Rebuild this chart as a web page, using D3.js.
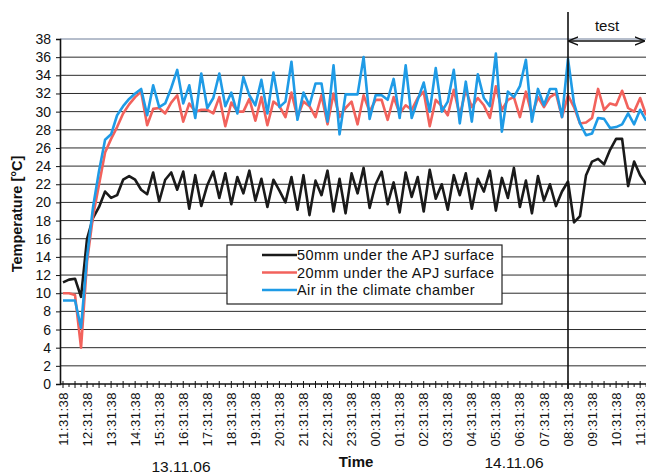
<!DOCTYPE html>
<html><head><meta charset="utf-8">
<script src="https://cdn.jsdelivr.net/npm/d3@7"></script>
<style>body{margin:0;background:#fff}svg{display:block}text{font-family:"Liberation Sans",Arial,sans-serif;fill:#111}</style>
</head><body><svg id="c" width="646" height="475"></svg>
<script>
const seriesNames = ["50mm under the APJ surface","20mm under the APJ surface","Air in the climate chamber"];
const seriesColors = ["#1a1a1a","#f2625c","#1f9be6"];
const black50 = [11.2,11.5,11.6,9.6,16,18.3,19.5,21.2,20.5,20.8,22.5,22.9,22.5,21.4,20.9,23.3,20.1,22.5,23.3,21.4,23.4,19.3,23.0,19.6,21.9,23.4,
20.5,23.2,19.8,22.8,21.0,23.5,20.2,22.6,19.5,22.5,21.3,20.0,22.8,19.2,23.0,18.6,22.4,20.8,23.5,19.0,22.6,18.8,23.2,21.0,23.8,19.4,22.0,23.4,19.8,22.2,18.9,23.3,20.6,22.8,19.0,23.6,20.4,22.0,19.2,23.0,20.8,23.2,19.3,22.6,21.2,23.5,19.1,22.7,20.5,23.8,19.5,22.4,18.8,22.9,20.2,22.0,19.6,21.2,22.3,
17.8,18.5,23.0,24.5,24.8,24.2,25.8,27.0,27.0,21.8,24.5,23.0,22.0];
const red20 = [10.0,10.0,9.8,4.0,13.5,18.5,22,25.5,27,28.3,29.8,30.8,31.6,32.2,
28.5,30.3,30.4,29.8,31.0,31.8,28.9,30.9,30.0,30.2,
30.2,29.8,31.6,28.4,31.0,30.0,30.0,31.4,29.0,31.6,
28.5,31.1,30.6,29.4,32.1,29.4,31.1,30.6,29.4,31.8,
28.6,32.0,29.4,30.4,31.1,28.6,31.8,30.0,31.3,31.3,
29.1,31.6,29.8,30.7,30.2,31.5,32.2,28.4,31.3,30.6,
29.6,32.4,29.6,32.4,30.5,31.5,30.7,29.3,32.8,30.2,
31.3,31.6,29.4,32.2,29.6,31.6,30.5,31.6,32.0,29.4,
31.8,30.5,28.7,28.8,29.3,32.5,30.2,30.9,30.7,32.3,30.4,30.0,31.5,29.6];
const blueAir = [9.2,9.2,9.2,6.2,14,19.5,23.5,26.9,27.5,29.6,30.6,31.4,32.0,32.5,
29.6,32.9,30.5,30.9,32.6,34.6,30.9,32.9,29.3,34.2,
30.4,31.5,34.2,30.6,32.1,29.8,33.8,31.8,30.7,33.5,
29.8,34.3,30.5,31.1,35.5,29.1,32.1,30.7,33.1,33.1,
28.9,35.1,27.5,31.9,31.9,31.9,36.0,29.2,31.8,31.8,
31.3,33.6,29.3,35.1,29.3,31.3,33.2,30.0,34.8,30.0,
31.1,34.6,28.7,33.3,28.9,34.1,31.5,30.6,36.4,27.8,
32.2,31.6,32.8,35.7,28.9,32.5,30.7,32.5,32.5,29.4,
35.8,30.9,28.7,27.4,27.6,29.3,29.2,28.2,28.3,28.6,29.8,28.6,30.2,29.0];
const yTicks = [0,2,4,6,8,10,12,14,16,18,20,22,24,26,28,30,32,34,36,38];
const xTickLabels = ["11:31:38","12:31:38","13:31:38","14:31:38","15:31:38","16:31:38","17:31:38","18:31:38","19:31:38","20:31:38","21:31:38","22:31:38","23:31:38","00:31:38","01:31:38","02:31:38","03:31:38","04:31:38","05:31:38","06:31:38","07:31:38","08:31:38","09:31:38","10:31:38","11:31:38"];
const dateLabels = ["13.11.06","14.11.06"];
const testIndex = 84; // 08:31:38, start of test

const svg = d3.select("#c");
const x = d3.scaleLinear().domain([0, 84]).range([63, 568]);
const y = d3.scaleLinear().domain([0, 38]).range([384, 39]);
const W = 646;

// grid
svg.append("g").selectAll("line").data(yTicks.filter(d=>d>0)).join("line")
  .attr("x1", 60).attr("x2", W).attr("y1", d=>y(d)).attr("y2", d=>y(d))
  .attr("stroke", d=> d===38 ? "#6d7c98" : "#2b2b2b").attr("stroke-width", 1);

// y axis
const ya = svg.append("g").attr("transform","translate(60,0)")
  .call(d3.axisLeft(y).tickValues(yTicks).tickSize(4).tickPadding(5).tickFormat(d3.format("d")));
ya.select(".domain").attr("stroke","#111").attr("stroke-width",1.6);
ya.selectAll(".tick line").attr("stroke","#111");
ya.selectAll("text").attr("font-size",14).style("font-family","'Liberation Sans',Arial,sans-serif").attr("fill","#111");

// x axis line and ticks
const idx = d3.range(0, 100);
svg.append("line").attr("x1",60).attr("x2",W).attr("y1",y(0)).attr("y2",y(0)).attr("stroke","#111").attr("stroke-width",1.4);
svg.append("g").selectAll("line").data(idx.filter(i=>i%2===0)).join("line")
  .attr("x1",d=>x(d)).attr("x2",d=>x(d)).attr("y1",y(0)-3).attr("y2",y(0)+4).attr("stroke","#111").attr("stroke-width",1);
svg.append("g").selectAll("line").data(idx.filter(i=>i%2===1)).join("line")
  .attr("x1",d=>x(d)).attr("x2",d=>x(d)).attr("y1",y(0)).attr("y2",y(0)+3).attr("stroke","#111").attr("stroke-width",1);

// x tick labels
svg.append("g").selectAll("text").data(xTickLabels).join("text")
  .attr("transform",(d,i)=>`translate(${x(i*4)},392) rotate(-90)`)
  .attr("text-anchor","end").attr("dy","0.35em").attr("font-size",13).attr("letter-spacing","0.5px").text(d=>d);

// lines
const seriesData = [black50, red20, blueAir];
const line = d3.line().x((d,i)=>x(i)).y(d=>y(d));
svg.append("g").selectAll("path").data(seriesData).join("path")
  .attr("d", line).attr("fill","none")
  .attr("stroke",(d,i)=>seriesColors[i]).attr("stroke-width",2.6).attr("stroke-linejoin","round");

// test marker
svg.append("line").attr("x1",x(testIndex)).attr("x2",x(testIndex)).attr("y1",12).attr("y2",y(0)+5)
  .attr("stroke","#111").attr("stroke-width",1.6);
const defs = svg.append("defs");
defs.append("marker").attr("id","ah").attr("viewBox","0 0 10 10").attr("refX",9).attr("refY",5)
  .attr("markerWidth",8).attr("markerHeight",8).attr("orient","auto-start-reverse")
  .append("path").attr("d","M0,1 L10,5 L0,9").attr("fill","none").attr("stroke","#111").attr("stroke-width",1.5);
svg.append("line").attr("x1",x(testIndex)+1).attr("x2",644).attr("y1",41).attr("y2",41)
  .attr("stroke","#111").attr("stroke-width",1.3)
  .attr("marker-start","url(#ah)").attr("marker-end","url(#ah)");
svg.append("text").attr("x",607).attr("y",31).attr("text-anchor","middle").attr("font-size",15).text("test");

// legend
const lg = svg.append("g").attr("transform","translate(227,245)");
lg.append("rect").attr("width",275).attr("height",59).attr("fill","#fff").attr("stroke","#222").attr("stroke-width",1.2);
seriesNames.forEach((n,i)=>{
  const ly = 10 + i*17.5;
  lg.append("line").attr("x1",35).attr("x2",70).attr("y1",ly).attr("y2",ly).attr("stroke",seriesColors[i]).attr("stroke-width",2.4);
  lg.append("text").attr("x",70).attr("y",ly).attr("dy","0.35em").attr("font-size",14.5).attr("letter-spacing","0.4px").text(n);
});

// axis titles
svg.append("text").attr("transform","translate(22,214) rotate(-90)").attr("text-anchor","middle")
  .attr("font-size",14.5).attr("font-weight","bold").text("Temperature [°C]");
svg.append("text").attr("x",356).attr("y",467).attr("text-anchor","middle").attr("font-size",15).attr("font-weight","bold").text("Time");
svg.append("text").attr("x",181).attr("y",472).attr("text-anchor","middle").attr("font-size",15.5).text(dateLabels[0]);
svg.append("text").attr("x",514).attr("y",468).attr("text-anchor","middle").attr("font-size",15.5).text(dateLabels[1]);
</script></body></html>
